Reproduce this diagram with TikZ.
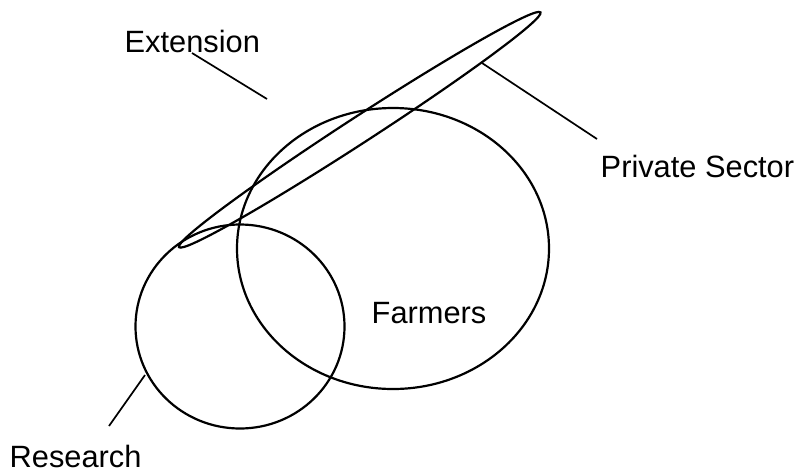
\documentclass[tikz,border=0pt]{standalone}
\usepackage{fontspec}
\setmainfont{Liberation Sans}
\usetikzlibrary{shapes.geometric}
\begin{document}
\begin{tikzpicture}[x=1pt,y=-1pt,
  lbl/.style={anchor=base west,inner sep=0pt,font=\fontsize{30.8}{36}\selectfont},
  blob/.style={ellipse,draw,line width=2.2pt,inner sep=0pt},
  lead/.style={line width=1.7pt}]
\useasboundingbox (0,0) rectangle (803,472);
\node[blob,minimum width=312pt,minimum height=281pt] (farm) at (393,248.5) {};
\node[blob,minimum width=209pt,minimum height=204pt] (res) at (240,326.5) {};
\node[blob,rotate=33,minimum width=431pt,minimum height=26pt] (priv) at (359.75,129.75) {};
\node[lbl] (ext) at (124.5,52.7) {Extension};
\node[lbl] (ps) at (600.5,177) {Private Sector};
\node[lbl] (fl) at (371.5,323) {Farmers};
\node[lbl] (rl) at (9.5,467) {Research};
\coordinate (e1) at (192,53);
\coordinate (e2) at (267,99);
\coordinate (p1) at (482,63);
\coordinate (p2) at (597,139);
\coordinate (r1) at (145,375);
\coordinate (r2) at (109,426);
\draw[lead] (e1) -- (e2);
\draw[lead] (p1) -- (p2);
\draw[lead] (r1) -- (r2);
\end{tikzpicture}
\end{document}
